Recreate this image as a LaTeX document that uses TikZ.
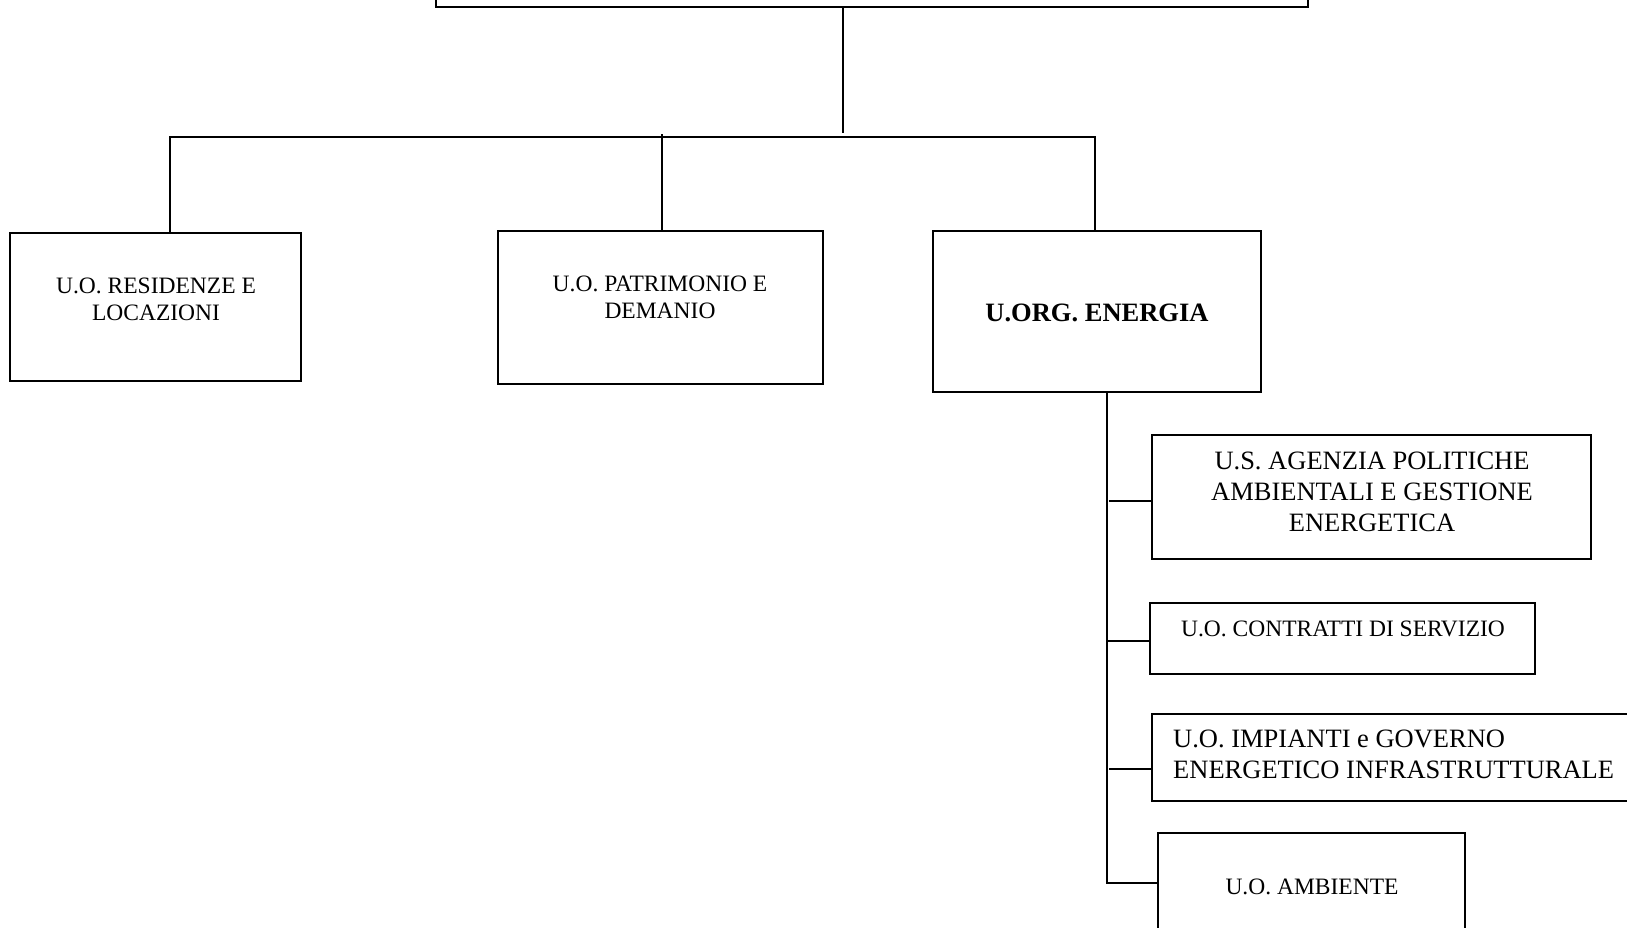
\documentclass[tikz,border=0pt]{standalone}
\usepackage{fontspec}
\setmainfont{Liberation Serif}
\begin{document}
\begin{tikzpicture}[x=1pt,y=-1pt,
  box/.style={draw,line width=1.8pt,rectangle,anchor=north west,inner sep=0pt,outer sep=0pt},
  conn/.style={line width=1.6pt},
  small/.style={align=center,font=\fontsize{23.5}{27}\selectfont,inner sep=0pt},
  large/.style={align=center,font=\fontsize{26.5}{31}\selectfont,inner sep=0pt}]
\clip (0,0) rectangle (1627,927);
\useasboundingbox (0,0) rectangle (1627,927);
% boxes
\node[box,anchor=south west,minimum width=872pt,minimum height=40pt] (top) at (436,7) {};
\node[box,minimum width=291pt,minimum height=148pt] (b1) at (10,233) {};
\node[box,minimum width=325pt,minimum height=153pt] (b2) at (498,231) {};
\node[box,minimum width=328pt,minimum height=161pt] (b3) at (933,231) {};
\node[box,minimum width=439pt,minimum height=124pt] (b4) at (1152,435) {};
\node[box,minimum width=385pt,minimum height=71pt] (b5) at (1150,603) {};
\node[box,minimum width=490pt,minimum height=87pt] (b6) at (1152,714) {};
\node[box,minimum width=307pt,minimum height=110pt] (b7) at (1158,833) {};
% texts
\node[small] (t1) at (156,299) {U.O. RESIDENZE E\\LOCAZIONI};
\node[small] (t2) at (660,297) {U.O. PATRIMONIO E\\DEMANIO};
\node[large,font=\fontsize{26.5}{31}\selectfont\bfseries] (t3) at (1097,313) {U.ORG. ENERGIA};
\node[large] (t4) at (1372,492) {U.S. AGENZIA POLITICHE\\AMBIENTALI E GESTIONE\\ENERGETICA};
\node[small] (t5) at (1343,629) {U.O. CONTRATTI DI SERVIZIO};
\node[large,align=left,anchor=west] (t6) at (1173,754) {U.O. IMPIANTI e GOVERNO\\ENERGETICO INFRASTRUTTURALE};
\node[small] (t7) at (1312,887) {U.O. AMBIENTE};
% connectors
\coordinate (j0) at (843,133);
\coordinate (busL) at (170,137);
\coordinate (busR) at (1095,137);
\coordinate (j2) at (662,134);
\draw[conn] (j0 |- top.south) -- (j0);
\draw[conn] (busL |- b1.north) -- (busL) -- (busR) -- (busR |- b3.north);
\draw[conn] (j2) -- (j2 |- b2.north);
\coordinate (sp) at (1107,883);
\draw[conn] (sp |- b3.south) -- (sp) -- (sp -| b7.west);
\coordinate (c4) at (1109,501);
\coordinate (c5) at (1107,641);
\coordinate (c6) at (1109,769);
\draw[conn] (c4) -- (c4 -| b4.west);
\draw[conn] (c5) -- (c5 -| b5.west);
\draw[conn] (c6) -- (c6 -| b6.west);
\end{tikzpicture}
\end{document}
